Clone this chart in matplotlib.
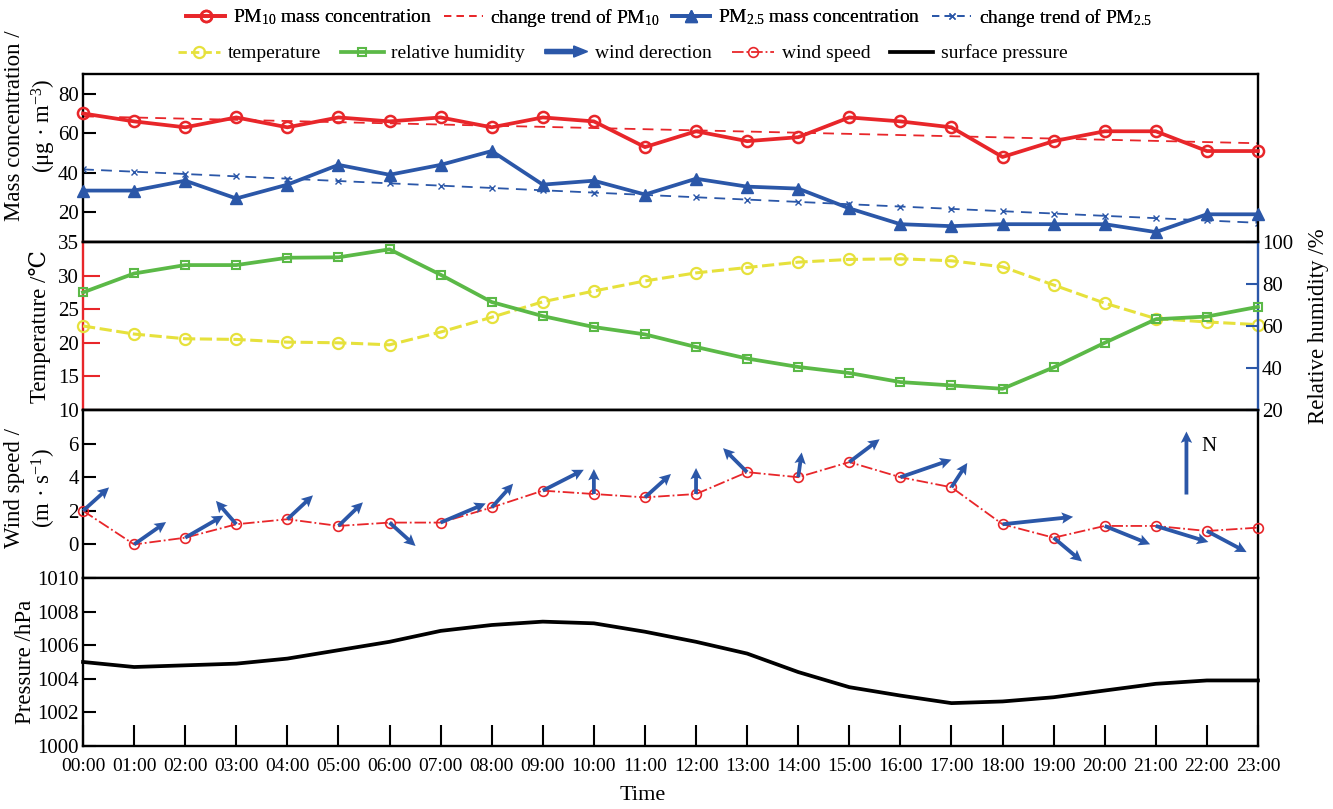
#!/usr/bin/python3
import numpy as np
import matplotlib
matplotlib.use('Agg')
import matplotlib.pyplot as plt
from matplotlib.patches import FancyArrow
from matplotlib.legend_handler import HandlerPatch
from matplotlib.lines import Line2D

hours = list(range(24))
hour_labels = ['{:02d}:00'.format(h) for h in hours]

pm10 = [70, 66, 63, 68, 63, 68, 66, 68, 63, 68, 66, 53, 61, 56, 58, 68, 66, 63, 48, 56, 61, 61, 51, 51]
pm25 = [31, 31, 36, 27, 34, 44, 39, 44, 51, 34, 36, 29, 37, 33, 32, 22, 14, 13, 14, 14, 14, 10, 19, 19]
temperature = [22.5, 21.3, 20.6, 20.5, 20.1, 20.0, 19.7, 21.6, 23.8, 26.1, 27.7, 29.2,
               30.4, 31.2, 32.0, 32.4, 32.5, 32.2, 31.3, 28.6, 25.9, 23.6, 23.1, 22.7]
humidity = [76, 85, 89, 89, 92.5, 92.7, 96.5, 84.4, 71.4, 64.7, 59.5, 56,
            50, 44.5, 40.5, 37.6, 33.3, 31.7, 30.1, 40.3, 52, 63.2, 64.5, 69.1]
wind_speed = [2.0, 0.0, 0.4, 1.2, 1.5, 1.1, 1.3, 1.3, 2.2, 3.2, 3.0, 2.8,
              3.0, 4.3, 4.0, 4.9, 4.0, 3.4, 1.2, 0.4, 1.1, 1.1, 0.8, 1.0]
# wind direction arrows for 00:00-22:00: angle (deg from east, ccw) and drawn length
wind_dir = [42, 35, 30, 131, 43, 44, -42, 23, 48, 27, 90, 42,
            90, 135, 82, 37, 19, 57, 6, -40, -22, -17, -28]
wind_len = [35, 39, 44, 31, 35, 34, 35, 49, 32, 46, 25, 35,
            26, 34, 25, 38, 54, 29, 71, 37, 49, 55, 45]
pressure = [1005.0, 1004.7, 1004.8, 1004.9, 1005.2, 1005.7, 1006.2, 1006.85, 1007.2, 1007.4, 1007.3, 1006.8,
            1006.2, 1005.5, 1004.4, 1003.5, 1003.0, 1002.55, 1002.65, 1002.9, 1003.3, 1003.7, 1003.9, 1003.9]

RED = '#e8262a'
BLUE = '#2b57a8'
YELLOW = '#e6e13c'
GREEN = '#5bb947'

plt.rcParams['font.family'] = ['Liberation Serif', 'DejaVu Serif']
plt.rcParams['mathtext.fontset'] = 'custom'
plt.rcParams['mathtext.rm'] = 'Liberation Serif'
plt.rcParams['mathtext.it'] = 'Liberation Serif:italic'
plt.rcParams['font.size'] = 14

ARROW_KW = dict(angles='uv', scale_units='dots', scale=1, units='dots', width=3.8,
                headwidth=3.0, headlength=3.0, headaxislength=2.6, color=BLUE, zorder=4)


def style_axes(ax, bottom_labels=False):
    for s in ax.spines.values():
        s.set_linewidth(1.7)
    ax.set_xlim(0, 23)
    ax.set_xticks(hours)
    if bottom_labels:
        ax.set_xticklabels(hour_labels)
        ax.tick_params(axis='x', direction='in', length=15, width=1.5, labelsize=14, pad=9)
    else:
        ax.tick_params(axis='x', bottom=False, labelbottom=False)
    ax.tick_params(axis='y', direction='in', length=9, width=1.5, labelsize=15, pad=3)


def draw_mass(ax):
    x = np.array(hours)
    ax.plot(x, pm10, '-o', color=RED, lw=2.7, ms=8, mfc='none', mew=1.8, clip_on=False, zorder=4)
    ax.plot(x, np.polyval(np.polyfit(x, pm10, 1), x), '--', color=RED, lw=1.3, dashes=(6, 4))
    ax.plot(x, pm25, '-^', color=BLUE, lw=2.7, ms=9, clip_on=False, zorder=4)
    ax.plot(x, np.polyval(np.polyfit(x, pm25, 1), x), '--x', color=BLUE, lw=1.3, ms=5, dashes=(6, 4))
    ax.set_ylim(5, 90)
    ax.set_yticks([20, 40, 60, 80])


def draw_met(ax):
    ax.plot(hours, temperature, '--o', color=YELLOW, lw=2.2, ms=8, mfc='none', mew=1.6,
            dashes=(4, 1.5), clip_on=False, zorder=3)
    ax.set_ylim(10, 35)
    ax.set_yticks([10, 15, 20, 25, 30, 35])
    ax.spines['left'].set_color(RED)
    ax.spines['right'].set_visible(False)
    ax.tick_params(axis='y', colors=RED, labelcolor='black', length=12)
    ax_rh = ax.twinx()
    ax_rh.plot(hours, humidity, '-s', color=GREEN, lw=2.7, ms=6, mfc='none', mew=1.5, clip_on=False, zorder=4)
    ax_rh.set_ylim(20, 100)
    ax_rh.set_yticks([20, 40, 60, 80, 100])
    for s in ax_rh.spines.values():
        s.set_linewidth(1.7)
    ax_rh.spines['left'].set_visible(False)
    ax_rh.spines['right'].set_color(BLUE)
    ax_rh.tick_params(axis='y', direction='in', length=9, width=1.5, colors=BLUE,
                      labelcolor='black', labelsize=15, pad=3)
    return ax_rh


def draw_wind(ax):
    ax.plot(hours, wind_speed, '-.o', color=RED, lw=1.3, ms=7, mfc='none', mew=1.2, clip_on=False, zorder=3)
    n = len(wind_dir)
    ang = np.radians(wind_dir)
    u = np.array(wind_len) * np.cos(ang)
    v = np.array(wind_len) * np.sin(ang)
    q = ax.quiver(hours[:n], wind_speed[:n], u, v, **ARROW_KW)
    q.set_clip_on(False)
    ax.quiver([21.6], [2.97], [0], [63], **ARROW_KW)
    ax.text(22.05, 5.8, 'N', fontsize=15, ha='center', va='center')
    ax.set_ylim(-2, 8)
    ax.set_yticks([0, 2, 4, 6])


def draw_pressure(ax):
    ax.plot(hours, pressure, '-', color='black', lw=2.7, clip_on=False)
    ax.set_ylim(1000, 1010)
    ax.set_yticks([1000, 1002, 1004, 1006, 1008, 1010])


def make_arrow(legend, orig_handle, xdescent, ydescent, width, height, fontsize):
    return FancyArrow(-xdescent, height / 2 - ydescent, width, 0, width=3.0,
                      head_width=8, head_length=10, length_includes_head=True)


def draw_legend(fig):
    row1 = [Line2D([], [], color=RED, lw=2.7, marker='o', ms=8, mfc='none', mew=1.8),
            Line2D([], [], color=RED, lw=1.3, ls='--', dashes=(4, 3)),
            Line2D([], [], color=BLUE, lw=2.7, marker='^', ms=9),
            Line2D([], [], color=BLUE, lw=1.3, ls='--', marker='x', ms=5, dashes=(4, 3))]
    labels1 = ['PM$_{10}$ mass concentration', 'change trend of PM$_{10}$',
               'PM$_{2.5}$ mass concentration', 'change trend of PM$_{2.5}$']
    leg1 = fig.legend(row1, labels1, loc='center', bbox_to_anchor=(0.502, 0.978), ncol=4,
                      frameon=False, fontsize=14, handlelength=2.0, handletextpad=0.4,
                      columnspacing=0.6, borderaxespad=0)
    arrow = FancyArrow(0, 0, 1, 0, color=BLUE)
    row2 = [Line2D([], [], color=YELLOW, lw=2, ls='--', marker='o', ms=8, mfc='none', mew=1.6, dashes=(3, 1.5)),
            Line2D([], [], color=GREEN, lw=2.7, marker='s', ms=6, mfc='none', mew=1.5),
            arrow,
            Line2D([], [], color=RED, lw=1.3, ls='-.', marker='o', ms=7, mfc='none', mew=1.2),
            Line2D([], [], color='black', lw=2.7)]
    labels2 = ['temperature', 'relative humidity', 'wind derection', 'wind speed', 'surface pressure']
    fig.legend(row2, labels2, loc='center', bbox_to_anchor=(0.467, 0.934), ncol=5,
               frameon=False, fontsize=14, handlelength=2.2, handletextpad=0.4,
               columnspacing=1.0, borderaxespad=0,
               handler_map={FancyArrow: HandlerPatch(patch_func=make_arrow)})
    fig.add_artist(leg1)


def main():
    fig = plt.figure(figsize=(13.33, 8.09), dpi=100)
    left, width, height = 0.0623, 0.8814, 0.2077
    ax_pm = fig.add_axes([left, 0.7009, width, height])
    ax_met = fig.add_axes([left, 0.4932, width, height])
    ax_wind = fig.add_axes([left, 0.2855, width, height])
    ax_p = fig.add_axes([left, 0.0779, width, height])

    for ax in (ax_pm, ax_met, ax_wind):
        style_axes(ax)
    style_axes(ax_p, bottom_labels=True)

    draw_mass(ax_pm)
    draw_met(ax_met)
    draw_wind(ax_wind)
    draw_pressure(ax_p)
    draw_legend(fig)

    fig.text(0.0233, 0.845, 'Mass concentration /\n(μg · m$^{-3}$)', rotation=90,
             ha='center', va='center', fontsize=16.5, linespacing=1.25, multialignment='center')
    fig.text(0.030, 0.597, 'Temperature /℃', rotation=90, ha='center', va='center', fontsize=16.5)
    fig.text(0.0233, 0.397, 'Wind speed /\n(m · s$^{-1}$)', rotation=90,
             ha='center', va='center', fontsize=16.5, linespacing=1.25, multialignment='center')
    fig.text(0.019, 0.182, 'Pressure /hPa', rotation=90, ha='center', va='center', fontsize=16.5)
    fig.text(0.989, 0.597, 'Relative humidity /%', rotation=90, ha='center', va='center', fontsize=16.5)
    fig.text(0.4824, 0.017, 'Time', ha='center', va='center', fontsize=16)

    fig.savefig('out.png', dpi=100)


if __name__ == '__main__':
    main()
